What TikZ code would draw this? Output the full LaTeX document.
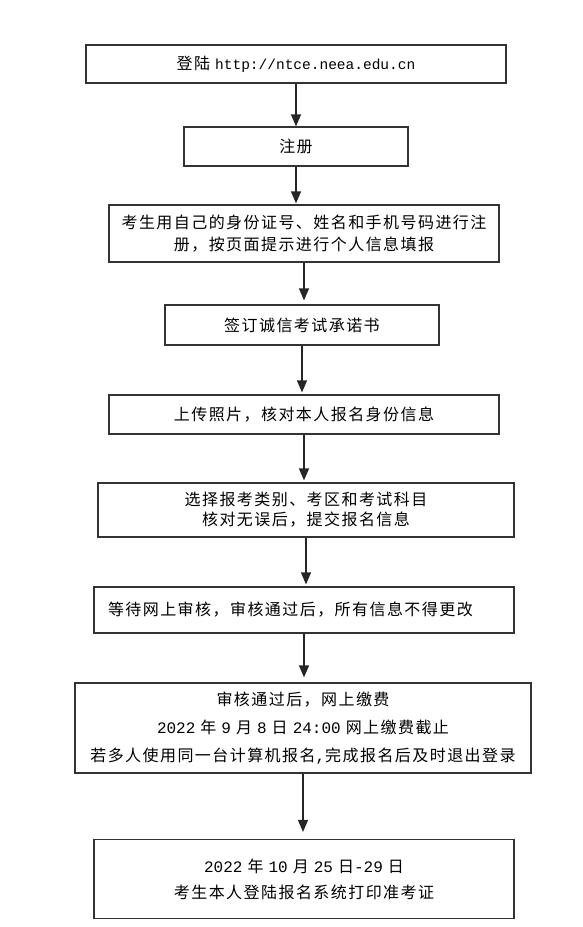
\documentclass[tikz,border=0pt]{standalone}
\usepackage{fontspec}
\setmainfont{Liberation Serif}
\newfontfamily\cjk[LetterSpace=9]{Noto Sans CJK SC}
\newfontfamily\latin{Liberation Mono}
\usetikzlibrary{arrows.meta}

\begin{document}
\begin{tikzpicture}[x=1pt,y=-1pt]
  \tikzset{box/.style={draw=black!80,line width=1.2pt,rectangle,align=center,inner sep=0pt,
      font=\fontsize{16}{22}\selectfont\cjk}}
  \tikzset{arr/.style={-{Triangle[width=10pt,length=12pt]},line width=1.2pt,black!85}}
  \useasboundingbox (0,0) rectangle (583,927);
  % steps, top to bottom
  \node[box,minimum width=420pt,minimum height=38pt] (login) at (296,64)
    {登陆 {\latin\fontsize{14.5}{22}\selectfont http://ntce.neea.edu.cn}};
  \node[box,minimum width=224pt,minimum height=39pt] (reg) at (296,146.5) {注册};
  \node[box,minimum width=390pt,minimum height=57pt] (fill) at (304,233.5)
    {考生用自己的身份证号、姓名和手机号码进行注\\册，按页面提示进行个人信息填报};
  \node[box,minimum width=274pt,minimum height=40pt] (promise) at (302,325) {签订诚信考试承诺书};
  \node[box,minimum width=390pt,minimum height=39pt] (photo) at (304,414.5)
    {上传照片，核对本人报名身份信息};
  \node[box,minimum width=416pt,minimum height=54pt,font=\fontsize{16}{20}\selectfont\cjk] (choose) at (306,510)
    {选择报考类别、考区和考试科目\\核对无误后，提交报名信息};
  \node[box,minimum width=420pt,minimum height=46pt,inner xsep=14pt,text width=392pt,align=left] (check) at (304,610)
    {等待网上审核，审核通过后，所有信息不得更改};
  \node[box,minimum width=456pt,minimum height=90pt,font=\fontsize{16}{28}\selectfont\cjk] (pay) at (303,728)
    {审核通过后，网上缴费\\
     {\latin 2022} 年 {\latin 9} 月 {\latin 8} 日 {\latin 24:00} 网上缴费截止\\
     若多人使用同一台计算机报名{\latin ,}完成报名后及时退出登录};
  \node[box,minimum width=420pt,minimum height=79pt,font=\fontsize{16}{26}\selectfont\cjk] (print) at (304,879)
    {{\latin 2022} 年 {\latin 10} 月 {\latin 25} 日{\latin -29} 日\\
     考生本人登陆报名系统打印准考证};
  % connectors
  \foreach \a/\b/\g in {login/reg/0,reg/fill/1,fill/promise/4,promise/photo/2,
      photo/choose/2,choose/check/2,check/pay/5,pay/print/7}
    \draw[arr,shorten >=\g pt] (\a.south) -- (\a.south |- \b.north);
\end{tikzpicture}
\end{document}
